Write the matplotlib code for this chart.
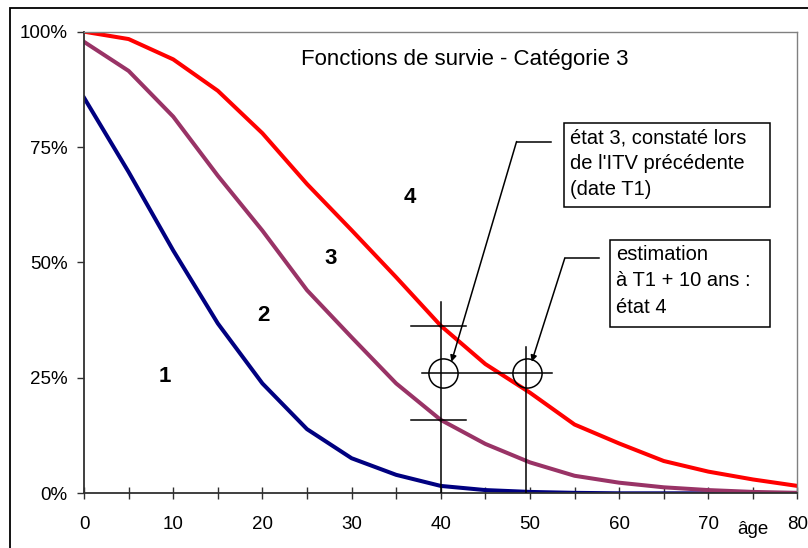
import numpy as np
import matplotlib.pyplot as plt
from matplotlib.patches import Rectangle
from matplotlib.ticker import FuncFormatter, MultipleLocator

plt.rcParams['font.family'] = ['Liberation Sans', 'DejaVu Sans']

# survival functions, one point every 5 years of age
ages = [0, 5, 10, 15, 20, 25, 30, 35, 40, 45, 50, 55, 60, 65, 70, 75, 80]
surv_1 = [85.7, 69.6, 52.6, 36.8, 23.8, 13.9, 7.6, 4.0, 1.6, 0.7, 0.3, 0.1, 0.0, 0.0, 0.0, 0.0, 0.0]
surv_2 = [97.8, 91.5, 81.6, 68.8, 56.9, 44.0, 33.8, 23.8, 15.9, 10.7, 6.7, 3.8, 2.3, 1.3, 0.7, 0.3, 0.1]
surv_3 = [100.0, 98.4, 94.0, 87.2, 78.0, 67.0, 57.0, 46.8, 36.3, 28.0, 21.8, 14.9, 10.8, 7.0, 4.7, 3.0, 1.6]

state_labels = ['1', '2', '3', '4']
state_x = [9.1, 20.1, 27.6, 36.5]
state_y = [25.4, 38.6, 50.9, 64.1]

t1_age = 40
t2_age = 49.6
obs_level = 26.0

box1_lines = ["état 3, constaté lors", "de l'ITV précédente", "(date T1)"]
box2_lines = ["estimation", "à T1 + 10 ans :", "état 4"]

fig = plt.figure(figsize=(8.08, 5.48), dpi=100)
ax = fig.add_axes([0.104, 0.0998, 0.883, 0.8424])

ax.plot(ages, surv_1, color='#000080', lw=2.9, solid_joinstyle='round')
ax.plot(ages, surv_2, color='#993366', lw=2.9, solid_joinstyle='round')
ax.plot(ages, surv_3, color='#FF0000', lw=2.9, solid_joinstyle='round')

ax.set_xlim(0, 80)
ax.set_ylim(0, 100)
ax.xaxis.set_major_locator(MultipleLocator(10))
ax.xaxis.set_minor_locator(MultipleLocator(5))
ax.yaxis.set_major_locator(MultipleLocator(25))
ax.yaxis.set_major_formatter(FuncFormatter(lambda v, p: f"{v:.0f}%"))
ax.tick_params(axis='x', which='both', direction='inout', length=8, width=1,
               color='#303030', labelsize=13.5, pad=12)
ax.tick_params(axis='y', direction='out', length=5, width=1, color='#303030',
               labelsize=13.5, pad=7)
for s in ['left', 'bottom']:
    ax.spines[s].set_color('#303030')
    ax.spines[s].set_linewidth(1.3)
for s in ['top', 'right']:
    ax.spines[s].set_color('#808080')
    ax.spines[s].set_linewidth(1)

for lab, x, y in zip(state_labels, state_x, state_y):
    ax.text(x, y, lab, fontsize=16, fontweight='bold', ha='center', va='center')

ax.text(42.7, 92.7, "Fonctions de survie - Catégorie 3", fontsize=16,
        ha='center', va='baseline')
ax.text(75.0, -7.9, "âge", fontsize=13.5, ha='center', va='center', clip_on=False)

# reading lines at T1 and T1 + 10 years
k = dict(color='black', lw=1.1, zorder=5)
ax.plot([t1_age, t1_age], [0, 41.5], **k)
ax.plot([36.7, 42.8], [surv_3[8], surv_3[8]], **k)
ax.plot([36.7, 42.8], [surv_2[8], surv_2[8]], **k)
ax.plot([37.9, 52.5], [obs_level, obs_level], **k)
ax.plot([t2_age, t2_age], [0, 31.6], **k)
ax.plot([40.25, t2_age + 0.05], [obs_level, obs_level], marker='o', ls='none',
        ms=21, mfc='none', mec='black', mew=1.1, zorder=6)

# callout boxes
ax.add_patch(Rectangle((53.8, 62.0), 23.1, 18.2, fill=False, ec='black', lw=1.1, zorder=5))
ax.add_patch(Rectangle((59.0, 36.0), 17.9, 18.9, fill=False, ec='black', lw=1.1, zorder=5))
for line, y in zip(box1_lines, [75.7, 70.2, 64.6]):
    ax.text(54.5, y, line, fontsize=14.5, va='baseline', ha='left')
for line, y in zip(box2_lines, [50.5, 44.8, 39.1]):
    ax.text(59.7, y, line, fontsize=14.5, va='baseline', ha='left')

ax.plot([48.5, 52.4], [76.2, 76.2], **k)
ax.annotate('', xy=(41.2, 28.5), xytext=(48.5, 76.2),
            arrowprops=dict(arrowstyle='-|>', color='black', lw=1.1,
                            mutation_scale=9, shrinkA=0, shrinkB=0), zorder=5)
ax.plot([53.9, 57.7], [50.9, 50.9], **k)
ax.annotate('', xy=(50.2, 28.5), xytext=(53.9, 50.9),
            arrowprops=dict(arrowstyle='-|>', color='black', lw=1.1,
                            mutation_scale=9, shrinkA=0, shrinkB=0), zorder=5)

# outer frame of the figure (left and top edges visible)
fig.add_artist(Rectangle((10 / 808, -0.1), 1.2, (540 / 548) + 0.1, transform=fig.transFigure,
                         fill=False, ec='black', lw=1.3))

fig.savefig('out.png', dpi=100)
